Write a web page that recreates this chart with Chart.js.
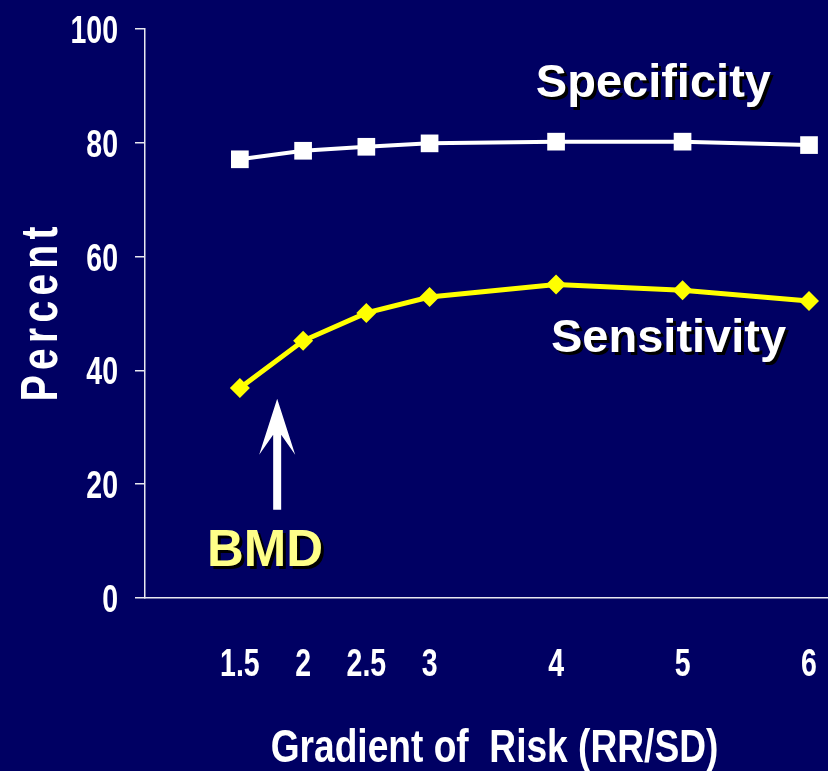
<!DOCTYPE html>
<html>
<head>
<meta charset="utf-8">
<script src="https://cdn.jsdelivr.net/npm/chart.js@4.4.0/dist/chart.umd.min.js"></script>
<style>
  html, body { margin: 0; padding: 0; background: #000063; }
  #wrap { width: 828px; height: 771px; }
</style>
</head>
<body>
<div id="wrap"><canvas id="chart" width="828" height="771"></canvas></div>
<script>
/* =========================
   DATA
========================= */
const gradients = [1.5, 2, 2.5, 3, 4, 5, 6];
const specificity = [77.1, 78.6, 79.3, 79.9, 80.2, 80.2, 79.6];
const sensitivity = [36.9, 45.2, 50.1, 52.9, 55.1, 54.1, 52.2];
const xTicks = [1.5, 2, 2.5, 3, 4, 5, 6];
const yTicks = [0, 20, 40, 60, 80, 100];

const FONT = "'Liberation Sans', Arial, sans-serif";
const AXIS = "#e8e8f0";
const SQUEEZE = 0.73; // no narrow face installed, so squash bold sans by hand

function pairs(ys) {
  return gradients.map((x, i) => ({ x, y: ys[i] }));
}

/* =========================
   TEXT HELPERS
========================= */
function narrowText(ctx, text, x, y, size, align, sx) {
  ctx.save();
  ctx.translate(x, y);
  ctx.scale(sx, 1);
  ctx.font = `bold ${size}px ${FONT}`;
  ctx.textAlign = align;
  ctx.textBaseline = "alphabetic";
  ctx.fillStyle = "#ffffff";
  ctx.fillText(text, 0, 0);
  ctx.restore();
}

function shadowText(ctx, text, x, y, color, size) {
  ctx.font = `bold ${size}px ${FONT}`;
  ctx.textAlign = "left";
  ctx.textBaseline = "alphabetic";
  ctx.fillStyle = "#000000";
  ctx.fillText(text, x + 3, y + 3);
  ctx.fillStyle = color;
  ctx.fillText(text, x, y);
}

/* axis labels + titles (condensed look) */
const axisText = {
  id: "axisText",
  afterDraw(chart) {
    const { ctx, scales: { x, y }, chartArea } = chart;
    const tickSize = 39;
    const cap = tickSize * 0.716;

    y.ticks.forEach(t => {
      narrowText(ctx, String(t.value), chartArea.left - 27, y.getPixelForValue(t.value) + cap / 2, tickSize, "right", SQUEEZE);
    });
    x.ticks.forEach(t => {
      narrowText(ctx, String(t.value), x.getPixelForValue(t.value), chartArea.bottom + 64 + cap / 2, tickSize, "center", SQUEEZE);
    });

    narrowText(ctx, "Gradient of  Risk (RR/SD)", (chartArea.left + chartArea.right) / 2 + 8, chartArea.bottom + 164, 47, "center", 0.79);

    // y title, rotated and letter spaced
    ctx.save();
    ctx.translate(57, (chartArea.top + chartArea.bottom) / 2);
    ctx.rotate(-Math.PI / 2);
    ctx.scale(0.75, 1);
    ctx.font = `bold 52px ${FONT}`;
    ctx.letterSpacing = "7px";
    ctx.textAlign = "center";
    ctx.textBaseline = "alphabetic";
    ctx.fillStyle = "#ffffff";
    ctx.fillText("Percent", 3, 0);
    ctx.restore();
  }
};

/* series labels and BMD arrow */
const annotations = {
  id: "annotations",
  afterDatasetsDraw(chart) {
    const { ctx, scales: { x, y } } = chart;
    ctx.save();

    shadowText(ctx, "Specificity", x.getPixelForValue(3.84), y.getPixelForValue(88), "#ffffff", 47);
    shadowText(ctx, "Sensitivity", x.getPixelForValue(3.96), y.getPixelForValue(43.2), "#ffffff", 47);
    shadowText(ctx, "BMD", x.getPixelForValue(1.24), y.getPixelForValue(5.6), "#ffff88", 51);

    const ax = x.getPixelForValue(1.795);
    const tip = y.getPixelForValue(35);
    const bottom = y.getPixelForValue(15.5);
    ctx.fillStyle = "#ffffff";
    ctx.beginPath();
    ctx.moveTo(ax, tip);
    ctx.lineTo(ax + 18, tip + 56);
    ctx.lineTo(ax + 4, tip + 36);
    ctx.lineTo(ax + 4, bottom);
    ctx.lineTo(ax - 4, bottom);
    ctx.lineTo(ax - 4, tip + 36);
    ctx.lineTo(ax - 18, tip + 56);
    ctx.closePath();
    ctx.fill();

    ctx.restore();
  }
};

/* =========================
   CHART
========================= */
new Chart(document.getElementById("chart"), {
  type: "line",
  data: {
    datasets: [
      {
        label: "Specificity",
        data: pairs(specificity),
        borderColor: "#ffffff",
        backgroundColor: "#ffffff",
        borderWidth: 4,
        pointStyle: "rect",
        pointRadius: 12.5,
        pointBorderWidth: 0,
        tension: 0
      },
      {
        label: "Sensitivity",
        data: pairs(sensitivity),
        borderColor: "#ffff00",
        backgroundColor: "#ffff00",
        borderWidth: 5,
        pointStyle: "rectRot",
        pointRadius: 10,
        pointBorderWidth: 0,
        tension: 0
      }
    ]
  },
  options: {
    responsive: false,
    devicePixelRatio: 1,
    animation: false,
    layout: { autoPadding: false, padding: { top: 29, right: 0, left: 0, bottom: 0 } },
    plugins: {
      legend: { display: false },
      tooltip: { enabled: false }
    },
    scales: {
      x: {
        type: "linear",
        min: 0.75,
        max: 6.15,
        afterBuildTicks: s => { s.ticks = xTicks.map(v => ({ value: v })); },
        afterFit: s => { s.height = 173; },
        grid: { display: false, drawTicks: false },
        border: { display: true, color: AXIS, width: 1.5 },
        ticks: { display: false }
      },
      y: {
        min: 0,
        max: 100,
        afterBuildTicks: s => { s.ticks = yTicks.map(v => ({ value: v })); },
        afterFit: s => { s.width = 145; },
        grid: {
          display: true,
          drawOnChartArea: false,
          drawTicks: true,
          tickLength: 10,
          color: AXIS,
          lineWidth: 1.5
        },
        border: { display: true, color: AXIS, width: 1.5 },
        ticks: { display: false }
      }
    }
  },
  plugins: [annotations, axisText]
});
</script>
</body>
</html>
